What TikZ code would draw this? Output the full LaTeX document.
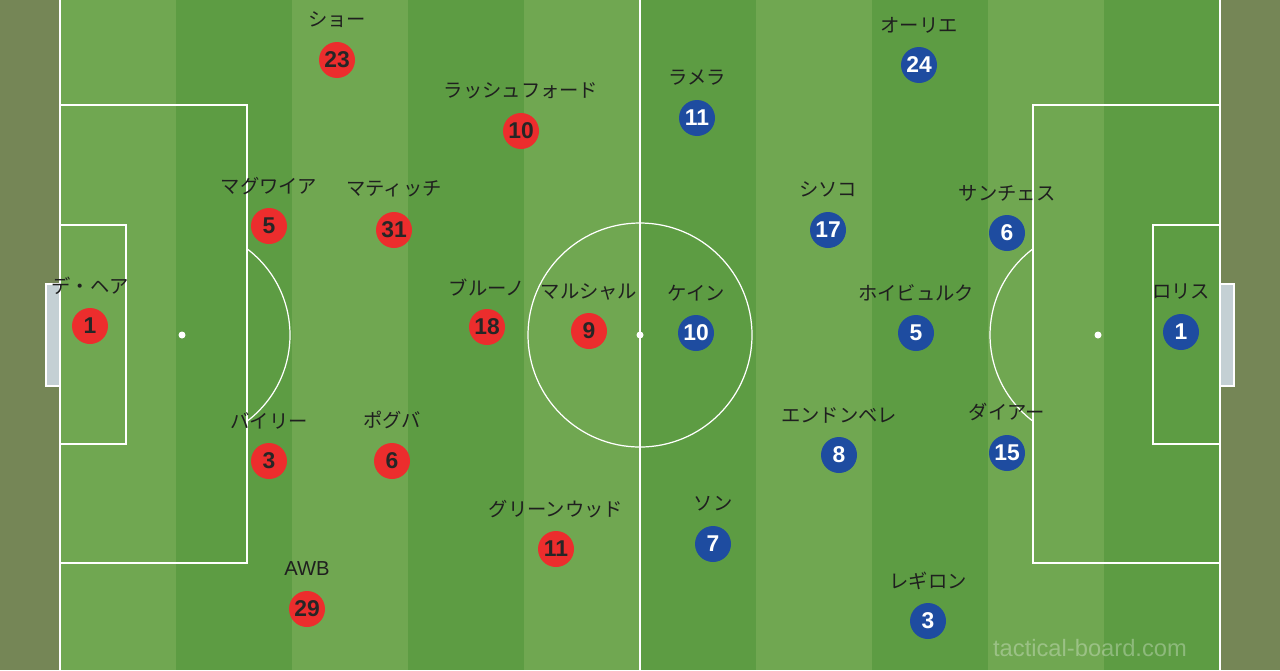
\documentclass[tikz,border=0pt]{standalone}
\usepackage{fontspec}
\setmainfont{Liberation Sans}
\newfontfamily\jpfont{Noto Sans CJK JP}
\definecolor{outside}{RGB}{117,134,86}
\definecolor{lightg}{RGB}{112,167,81}
\definecolor{darkg}{RGB}{93,156,67}
\definecolor{redp}{RGB}{236,45,45}
\definecolor{bluep}{RGB}{30,76,160}
\definecolor{goalc}{RGB}{196,208,212}
\begin{document}
\begin{tikzpicture}[x={(0.02cm,0)},y={(0,-0.02cm)},
  fieldline/.style={draw=white,line width=0.7pt},
  redplayer/.style={circle,fill=redp,minimum size=0.72cm,inner sep=0pt,font=\fontsize{13}{14}\selectfont\bfseries,text=black!85},
  blueplayer/.style={circle,fill=bluep,minimum size=0.72cm,inner sep=0pt,font=\fontsize{13}{14}\selectfont\bfseries,text=white},
  plabel/.style={font=\jpfont\fontsize{11}{12}\selectfont,text=black!88,inner sep=0pt}]
\useasboundingbox (0,0) rectangle (1280,670);
\fill[outside] (0,0) rectangle (1280,670);
% stripes
\foreach \i in {0,...,9}{
  \pgfmathsetmacro\xa{60+116*\i}
  \pgfmathsetmacro\xb{176+116*\i}
  \pgfmathparse{mod(\i,2)==0 ? "lightg" : "darkg"}
  \fill[\pgfmathresult] (\xa,0) rectangle (\xb,670);
}
% goals
\fill[goalc] (46,284) rectangle (60,386);
\draw[white,line width=0.7pt] (60,284) -- (46,284) -- (46,386) -- (60,386);
\fill[goalc] (1220,284) rectangle (1234,386);
\draw[white,line width=0.7pt] (1220,284) -- (1234,284) -- (1234,386) -- (1220,386);
% field lines
\draw[fieldline] (60,-5) rectangle (1220,675);
\draw[fieldline] (640,-5) -- (640,675);
\draw[fieldline] (640,335) circle[radius=112];
\fill[white] (640,335) circle[radius=3.5];
% left
\draw[fieldline] (60,105) rectangle (247,563);
\draw[fieldline] (60,225) rectangle (126,444);
\fill[white] (182,335) circle[radius=3.5];
\begin{scope}
\clip (247,0) rectangle (400,670);
\draw[fieldline] (182,335) circle[radius=108];
\end{scope}
% right
\draw[fieldline] (1033,105) rectangle (1220,563);
\draw[fieldline] (1153,225) rectangle (1220,444);
\fill[white] (1098,335) circle[radius=3.5];
\begin{scope}
\clip (880,0) rectangle (1033,670);
\draw[fieldline] (1098,335) circle[radius=108];
\end{scope}
% watermark
\node[font=\fontsize{13.5}{15}\selectfont,text=white,opacity=0.3] (wm) at (1090,648) {tactical-board.com};
% red players
\node[redplayer] (r1) at (90,326) {1};
\node[plabel] (lr1) at (90,286) {デ・ヘア};
\node[redplayer] (r23) at (337,60) {23};
\node[plabel] (lr23) at (337,20) {ショー};
\node[redplayer] (r10) at (521,131) {10};
\node[plabel] (lr10) at (521,91) {ラッシュフォード};
\node[redplayer] (r5) at (269,226) {5};
\node[plabel] (lr5) at (269,186) {マグワイア};
\node[redplayer] (r31) at (394,230) {31};
\node[plabel] (lr31) at (394,189) {マティッチ};
\node[redplayer] (r18) at (487,327) {18};
\node[plabel] (lr18) at (487,288) {ブルーノ};
\node[redplayer] (r9) at (589,331) {9};
\node[plabel] (lr9) at (589,292) {マルシャル};
\node[redplayer] (r3) at (269,461) {3};
\node[plabel] (lr3) at (269,421) {バイリー};
\node[redplayer] (r6) at (392,461) {6};
\node[plabel] (lr6) at (392,420) {ポグバ};
\node[redplayer] (r11) at (556,549) {11};
\node[plabel] (lr11) at (556,509) {グリーンウッド};
\node[redplayer] (r29) at (307,609) {29};
\node[plabel,font=\fontsize{11.5}{12}\selectfont] (lr29) at (307,569) {AWB};
% blue players
\node[blueplayer] (b11) at (697,118) {11};
\node[plabel] (lb11) at (697,78) {ラメラ};
\node[blueplayer] (b24) at (919,65) {24};
\node[plabel] (lb24) at (919,25) {オーリエ};
\node[blueplayer] (b17) at (828,230) {17};
\node[plabel] (lb17) at (828,189) {シソコ};
\node[blueplayer] (b6) at (1007,233) {6};
\node[plabel] (lb6) at (1007,193) {サンチェス};
\node[blueplayer] (b10) at (696,333) {10};
\node[plabel] (lb10) at (696,293) {ケイン};
\node[blueplayer] (b5) at (916,333) {5};
\node[plabel] (lb5) at (916,293) {ホイビュルク};
\node[blueplayer] (b1) at (1181,332) {1};
\node[plabel] (lb1) at (1181,292) {ロリス};
\node[blueplayer] (b8) at (839,455) {8};
\node[plabel] (lb8) at (839,415) {エンドンベレ};
\node[blueplayer] (b15) at (1007,453) {15};
\node[plabel] (lb15) at (1007,412) {ダイアー};
\node[blueplayer] (b7) at (713,544) {7};
\node[plabel] (lb7) at (713,504) {ソン};
\node[blueplayer] (b3) at (928,621) {3};
\node[plabel] (lb3) at (928,581) {レギロン};
\end{tikzpicture}
\end{document}
